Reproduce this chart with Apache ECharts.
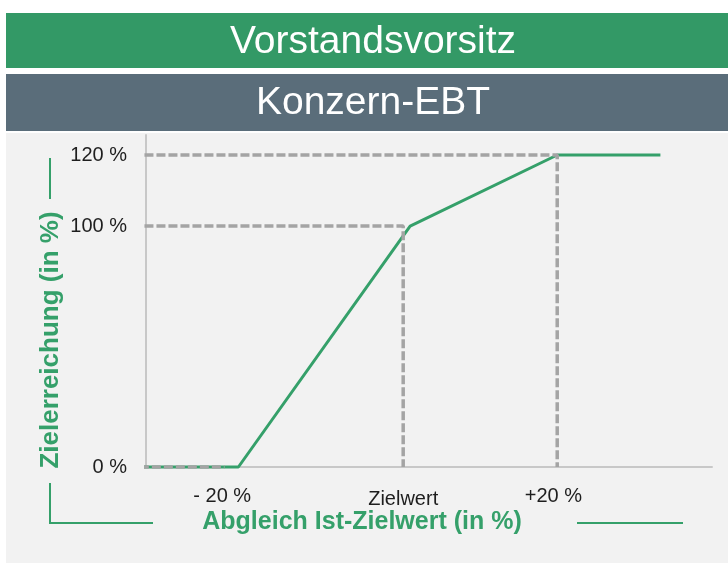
<!DOCTYPE html>
<html lang="de">
<head>
    <meta charset="UTF-8">
    <title>Konzern-EBT</title>
    <script src="https://cdn.jsdelivr.net/npm/echarts@6/dist/echarts.min.js"></script>
    <style>
        html, body { margin: 0; padding: 0; background: #fff; }
        #chart { width: 728px; height: 563px; }
    </style>
</head>
<body>
    <div id="chart"></div>
    <script>
        // schematic chart: y levels are the plotted heights, labels say what they mean
        var yTickLevels = [0, 100, 129.5];
        var yTickLabels = ['0 %', '100 %', '120 %'];
        var xTickValues = [-23.5, 0, 19.5];
        var xTickLabels = ['- 20 %', 'Zielwert', '+20 %'];

        // payout curve
        var curveX = [-34.2, -21.4, 0.9, 20, 33.4];
        var curveY = [0, 0, 100, 129.5, 129.5];

        // grey helper lines
        var guideTop = [[-33.6, 129.5], [20, 129.5], [20, 0]];
        var guideMid = [[-33.6, 100], [0, 100], [0, 0]];
        var guideBottom = [[-34.2, 0], [-23.2, 0]];

        var green = '#35a06a';
        var dash = '#a4a4a4';
        var font = '"Liberation Sans", Arial, sans-serif';

        function pairs(xs, ys) {
            var out = [];
            for (var i = 0; i < xs.length; i++) out.push([xs[i], ys[i]]);
            return out;
        }
        function guide(data) {
            return {
                type: 'line', data: data, symbol: 'none', clip: false, z: 3,
                lineStyle: { color: dash, width: 3.5, type: [9, 3] }, animation: false
            };
        }

        var chart = echarts.init(document.getElementById('chart'));
        var option = {
            backgroundColor: '#fff',
            animation: false,
            grid: { left: 146, right: 16, top: 135, bottom: 96 },
            xAxis: {
                type: 'value', min: -33.4, max: 40.1,
                splitLine: { show: false },
                axisTick: { show: false },
                axisLine: { onZero: false, lineStyle: { color: '#c8c8c8', width: 2 } },
                axisLabel: {
                    customValues: xTickValues,
                    margin: 19,
                    fontFamily: font, fontSize: 20, color: '#1e1e1e',
                    formatter: function (v) {
                        var i = xTickValues.indexOf(v);
                        var t = i < 0 ? '' : xTickLabels[i];
                        return t === 'Zielwert' ? '{z|' + t + '}' : t;
                    },
                    rich: { z: { fontFamily: font, fontSize: 20, color: '#1e1e1e', padding: [3, 0, 0, 0] } }
                }
            },
            yAxis: {
                type: 'value', min: 0, max: 137.8,
                splitLine: { show: false },
                axisTick: { show: false },
                axisLine: { show: true, onZero: false, lineStyle: { color: '#c8c8c8', width: 2 } },
                axisLabel: {
                    customValues: yTickLevels,
                    margin: 19,
                    fontFamily: font, fontSize: 20, color: '#1e1e1e',
                    formatter: function (v) {
                        var i = yTickLevels.indexOf(v);
                        return i < 0 ? '' : yTickLabels[i];
                    }
                }
            },
            graphic: [
                { type: 'rect', z: -10, shape: { x: 6, y: 133, width: 722, height: 430 }, style: { fill: '#f2f2f2' } },
                { type: 'rect', shape: { x: 6, y: 13, width: 722, height: 55 }, style: { fill: '#339966' } },
                { type: 'rect', shape: { x: 6, y: 74, width: 722, height: 57 }, style: { fill: '#5a6d7a' } },
                { type: 'text', x: 373, y: 42, style: { text: 'Vorstandsvorsitz', fill: '#fff', font: '39px ' + font, align: 'center', verticalAlign: 'middle' } },
                { type: 'text', x: 373, y: 103, style: { text: 'Konzern-EBT', fill: '#fff', font: '39px ' + font, align: 'center', verticalAlign: 'middle' } },
                { type: 'text', x: 362, y: 522, style: { text: 'Abgleich Ist-Zielwert (in %)', fill: green, font: 'bold 25px ' + font, align: 'center', verticalAlign: 'middle' } },
                { type: 'text', x: 51, y: 340, rotation: Math.PI / 2, style: { text: 'Zielerreichung (in %)', fill: green, font: 'bold 26px ' + font, align: 'center', verticalAlign: 'middle' } },
                { type: 'polyline', shape: { points: [[50, 158], [50, 199]] }, style: { stroke: green, lineWidth: 2 } },
                { type: 'polyline', shape: { points: [[50, 483], [50, 523], [153, 523]] }, style: { stroke: green, lineWidth: 2, fill: null } },
                { type: 'polyline', shape: { points: [[577, 523], [683, 523]] }, style: { stroke: green, lineWidth: 2 } }
            ],
            series: [
                {
                    type: 'line', data: pairs(curveX, curveY), symbol: 'none', clip: false, z: 2,
                    lineStyle: { color: green, width: 3 }
                },
                guide(guideTop),
                guide(guideMid),
                guide(guideBottom)
            ]
        };
        chart.setOption(option);
    </script>
</body>
</html>
